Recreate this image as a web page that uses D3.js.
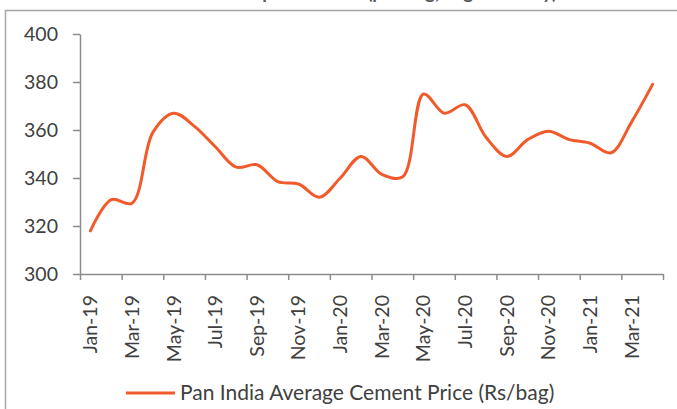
<!DOCTYPE html>
<html>
<head>
<meta charset="utf-8">
<script src="https://cdn.jsdelivr.net/npm/d3@7"></script>
<style>
  html, body { margin: 0; padding: 0; background: #fff; }
  svg { display: block; font-family: Lato, "Open Sans", sans-serif; }
</style>
</head>
<body>
<svg id="chart" width="677" height="409"></svg>
<script>
// monthly cement price, pan India average
const months = ["Jan-19","Feb-19","Mar-19","Apr-19","May-19","Jun-19","Jul-19","Aug-19","Sep-19","Oct-19","Nov-19","Dec-19",
  "Jan-20","Feb-20","Mar-20","Apr-20","May-20","Jun-20","Jul-20","Aug-20","Sep-20","Oct-20","Nov-20","Dec-20",
  "Jan-21","Feb-21","Mar-21","Apr-21"];
const prices = [318, 331, 329.5, 359, 367, 361.5, 353, 344.5, 345.5, 338.5, 337.5, 332,
  340, 349, 341.5, 340.5, 375, 367, 370.5, 357, 349, 356, 359.5, 356,
  354.5, 350.5, 363.5, 379];
const yTicks = [300, 320, 340, 360, 380, 400];
const seriesName = "Pan India Average Cement Price (Rs/bag)";
const titleText = "Exhibit: Cement prices trend (per bag, avg. monthly)";

const svg = d3.select("#chart");
const axisColor = "#8c8c8c";
const textColor = "#404040";
const lineColor = "#f15a2b";
const fontSize = 19.5;

// frame of the chart box (runs off the right and bottom edge)
svg.append("rect")
  .attr("x", 5.5).attr("y", 10.5)
  .attr("width", 700).attr("height", 420)
  .attr("fill", "none")
  .attr("stroke", "#a6a6a6")
  .attr("stroke-width", 1.5);

// title, mostly cut off at the top like in the source
svg.append("text")
  .attr("x", 340).attr("y", -1)
  .attr("text-anchor", "middle")
  .attr("font-size", 19)
  .attr("font-weight", "bold")
  .attr("fill", "#595959")
  .text(titleText);

const plotL = 80, plotR = 663, plotT = 34, plotB = 274;

const x = d3.scaleBand().domain(months).range([plotL, plotR]).padding(0);
const xIdx = d3.scaleLinear().domain([0, months.length]).range([plotL, plotR]);
const y = d3.scaleLinear().domain([300, 400]).range([plotB, plotT]);

// y axis
const gy = svg.append("g")
  .attr("transform", `translate(${plotL},0)`)
  .call(d3.axisLeft(y).tickValues(yTicks).tickSize(7).tickPadding(15).tickSizeOuter(0));
gy.select(".domain").attr("stroke", axisColor).attr("stroke-width", 1.5);
gy.selectAll(".tick line").attr("stroke", axisColor).attr("stroke-width", 1.5);
gy.selectAll(".tick text")
  .attr("font-family", "Lato, sans-serif")
  .attr("font-size", fontSize).attr("fill", textColor);

// x axis tick marks at category boundaries, every 2 months
const gxTicks = svg.append("g")
  .attr("transform", `translate(0,${plotB})`)
  .call(d3.axisBottom(xIdx).tickValues(d3.range(0, months.length + 1, 2)).tickSize(6).tickFormat("").tickSizeOuter(0));
gxTicks.select(".domain").attr("stroke", axisColor).attr("stroke-width", 1.5);
gxTicks.selectAll(".tick line").attr("stroke", axisColor).attr("stroke-width", 1.5);

// x axis labels, rotated
const gx = svg.append("g")
  .attr("transform", `translate(0,${plotB})`)
  .call(d3.axisBottom(x).tickValues(months.filter((d, i) => i % 2 === 0)).tickSize(0).tickPadding(0));
gx.select(".domain").remove();
gx.selectAll(".tick text")
  .attr("font-family", "Lato, sans-serif")
  .attr("font-size", fontSize).attr("fill", textColor)
  .attr("text-anchor", "end")
  .attr("dy", "0.35em")
  .attr("transform", "translate(0,21) rotate(-90)")
  .attr("y", 0).attr("x", 0);

// the line
const line = d3.line()
  .x((d, i) => x(months[i]) + x.bandwidth() / 2)
  .y(d => y(d))
  .curve(d3.curveCatmullRom.alpha(0.5));

svg.append("path")
  .datum(prices)
  .attr("fill", "none")
  .attr("stroke", lineColor)
  .attr("stroke-width", 3)
  .attr("stroke-linecap", "round")
  .attr("d", line);

// legend
const lg = svg.append("g").attr("transform", "translate(126,393)");
lg.append("line")
  .attr("x1", 0).attr("x2", 49).attr("y1", 0).attr("y2", 0)
  .attr("stroke", lineColor).attr("stroke-width", 3);
lg.append("text")
  .attr("x", 54).attr("y", 0).attr("dy", "0.35em")
  .attr("font-family", "Lato, sans-serif")
  .attr("font-size", 21).attr("fill", textColor)
  .text(seriesName);
</script>
</body>
</html>
